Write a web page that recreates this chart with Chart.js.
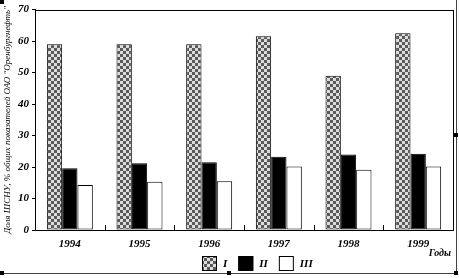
<!DOCTYPE html>
<html><head><meta charset="utf-8">
<script src="https://cdn.jsdelivr.net/npm/chart.js@4.4.1/dist/chart.umd.min.js"></script>
<style>html,body{margin:0;padding:0;background:#fff;}#wrap{width:459px;height:278px;}</style>
</head><body><div id="wrap"><canvas id="c" width="459" height="278"></canvas></div>
<script>
const categories = ['1994','1995','1996','1997','1998','1999'];
const seriesLabels = ['I','II','III'];
const seriesI = [59, 59, 59, 61.5, 49, 62.5];
const seriesII = [19.6, 21.2, 21.5, 23.3, 24, 24.2];
const seriesIII = [14.3, 15.3, 15.5, 20.2, 19.1, 20.2];
const yTicks = [0,10,20,30,40,50,60,70];
const yTitle = 'Доля ШСНУ, % общих показателей ОАО "Оренбургнефть"';
const xTitle = 'Годы';

function makePattern(){
  const p = document.createElement('canvas');
  p.width = 6; p.height = 6;
  const g = p.getContext('2d');
  g.fillStyle = '#dcdcdc'; g.fillRect(0,0,6,6);
  g.fillStyle = '#5a5a5a';
  g.fillRect(0,0,3,3); g.fillRect(3,3,3,3);
  return document.getElementById('c').getContext('2d').createPattern(p,'repeat');
}
const pat = makePattern();
const fills = [pat, '#000000', '#ffffff'];
const FONT = 'Liberation Serif';

const decor = {
  id:'decor',
  afterDraw(chart){
    const ctx = chart.ctx, a = chart.chartArea, xs = chart.scales.x;
    ctx.save();
    ctx.strokeStyle = '#000'; ctx.lineWidth = 1;
    ctx.strokeRect(Math.round(a.left)+0.5, Math.round(a.top)+0.5, Math.round(a.right-a.left), Math.round(a.bottom-a.top));
    ctx.beginPath();
    for(let i=1;i<categories.length;i++){
      const x = Math.round((xs.getPixelForValue(i-1)+xs.getPixelForValue(i))/2)+0.5;
      ctx.moveTo(x, a.bottom); ctx.lineTo(x, a.bottom-5);
    }
    ctx.stroke();
    ctx.fillStyle = '#000';
    ctx.font = 'italic bold 10px "'+FONT+'"';
    ctx.textAlign = 'right'; ctx.textBaseline = 'middle';
    ctx.fillText(xTitle, 451, 253);
    let x = 202; const y = 256, s = 15;
    ctx.font = 'italic bold 11px "'+FONT+'"';
    ctx.textAlign = 'left';
    chart.data.datasets.forEach((ds,i)=>{
      ctx.fillStyle = ds.backgroundColor;
      ctx.fillRect(x, y, s, s);
      ctx.strokeStyle = '#000';
      ctx.strokeRect(x+0.5, y+0.5, s-1, s-1);
      ctx.fillStyle = '#000';
      ctx.fillText(ds.label, x+s+6, y+s/2+1);
      x += s + 6 + ctx.measureText(ds.label).width + 11;
    });
    ctx.strokeStyle = '#444';
    ctx.beginPath();
    ctx.moveTo(0, 273.5); ctx.lineTo(456.5, 273.5);
    ctx.moveTo(456.5, 0); ctx.lineTo(456.5, 273.5);
    ctx.stroke();
    ctx.fillStyle = '#000';
    [[0,0],[0,271],[227,271],[454,271],[454,133]].forEach(p=>ctx.fillRect(p[0],p[1],4,4));
    ctx.restore();
  }
};

new Chart(document.getElementById('c'), {
  type:'bar',
  data:{
    labels: categories,
    datasets:[seriesI, seriesII, seriesIII].map((d,i)=>({
      label: seriesLabels[i], data: d,
      backgroundColor: fills[i], borderColor:'#000', borderWidth:1, borderSkipped:false,
      categoryPercentage:0.66, barPercentage:1.0
    }))
  },
  plugins:[decor],
  options:{
    responsive:false, animation:false,
    layout:{padding:{top:9, right:6, left:0, bottom:0}},
    plugins:{legend:{display:false}, tooltip:{enabled:false}},
    scales:{
      x:{
        offset:true,
        grid:{display:false, drawTicks:false},
        border:{display:false},
        ticks:{color:'#000', padding:8, font:{family:FONT, size:11, style:'italic', weight:'bold'}},
        afterFit(s){ s.height = 48; }
      },
      y:{
        min:0, max:70,
        afterBuildTicks(s){ s.ticks = yTicks.map(v=>({value:v})); },
        grid:{drawOnChartArea:false, tickLength:3, color:'#000'},
        border:{display:true, color:'#000'},
        ticks:{color:'#000', padding:3, font:{family:FONT, size:11, style:'italic', weight:'bold'}},
        title:{display:true, text:yTitle, color:'#000', padding:{top:2,bottom:0}, font:{family:FONT, size:9, style:'italic'}},
        afterFit(s){ s.width = 35; }
      }
    }
  }
});
</script></body></html>
